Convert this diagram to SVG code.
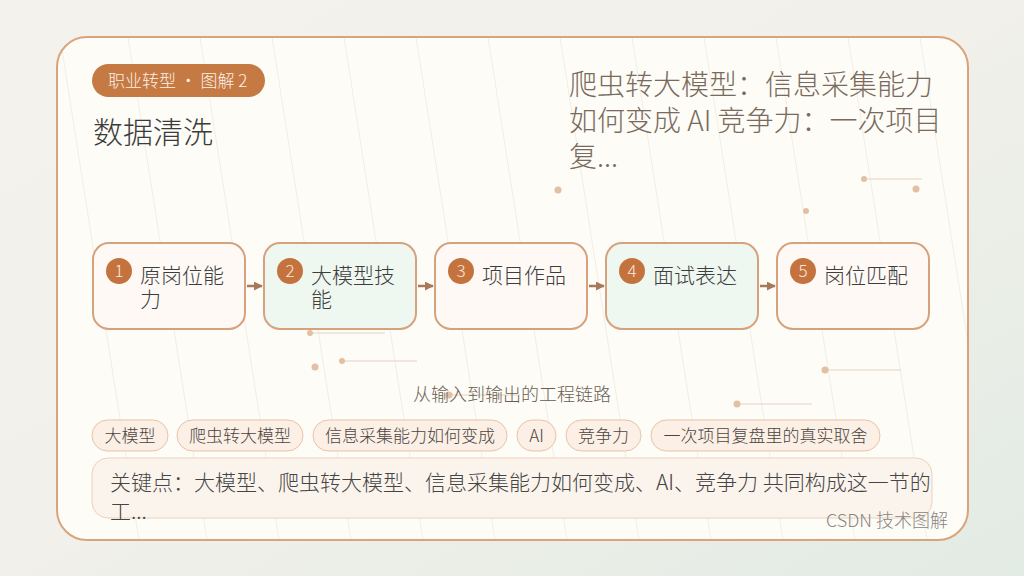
<svg xmlns="http://www.w3.org/2000/svg" width="1024" height="576" viewBox="0 0 1024 576">
<defs>
<linearGradient id="bg" x1="0" y1="0" x2="1" y2="1">
<stop offset="0" stop-color="#f4f2ed"/>
<stop offset="0.5" stop-color="#f1f0ea"/>
<stop offset="1" stop-color="#e2ebe4"/>
</linearGradient>
<clipPath id="cardclip"><rect x="57" y="37" width="911" height="503" rx="30"/></clipPath>
<marker id="arr" viewBox="0 0 10 10" refX="9" refY="5" markerWidth="9" markerHeight="9" orient="auto" markerUnits="userSpaceOnUse">
<path d="M0,0 L10,5 L0,10 z" fill="#a8785a"/>
</marker>
<style>
text{font-family:"Noto Sans CJK SC Light","Noto Sans CJK SC DemiLight","Noto Sans CJK SC","Noto Sans",sans-serif;font-weight:300}
.node{stroke:#d6a27e;stroke-width:2}
.warm{fill:#fef9f5}
.cool{fill:#eef7f0}
.num{fill:#c4733e}
.numt{fill:#fbe9dc;font-size:17px;text-anchor:middle}
.lbl{fill:#3d3d3d;font-size:21px}
.tag{fill:#fbefe6;stroke:#e8c3a4;stroke-width:1}
.tagt{fill:#4a4540;font-size:17px;text-anchor:middle}
.dot{fill:#e3c0a4}
.dl{stroke:#e6d3c4;stroke-width:1}
.conn{stroke:#a8785a;stroke-width:2.5;fill:none}
.bgl{stroke:#efefe8;stroke-width:1}
</style>
</defs>
<rect width="1024" height="576" fill="url(#bg)"/>
<rect x="57" y="37" width="911" height="503" rx="30" fill="#fdfcf7"/>
<g clip-path="url(#cardclip)">
<line class="bgl" x1="60" y1="37" x2="139" y2="540"/>
<line class="bgl" x1="128" y1="37" x2="207" y2="540"/>
<line class="bgl" x1="200" y1="37" x2="279" y2="540"/>
<line class="bgl" x1="272" y1="37" x2="351" y2="540"/>
<line class="bgl" x1="344" y1="37" x2="423" y2="540"/>
<line class="bgl" x1="416" y1="37" x2="495" y2="540"/>
<line class="bgl" x1="488" y1="37" x2="567" y2="540"/>
<line class="bgl" x1="560" y1="37" x2="639" y2="540"/>
<line class="bgl" x1="632" y1="37" x2="711" y2="540"/>
<line class="bgl" x1="704" y1="37" x2="783" y2="540"/>
<line class="bgl" x1="776" y1="37" x2="855" y2="540"/>
<line class="bgl" x1="848" y1="37" x2="927" y2="540"/>
<line class="bgl" x1="920" y1="37" x2="999" y2="540"/>
</g>
<rect x="57" y="37" width="911" height="503" rx="30" fill="none" stroke="#d9a47c" stroke-width="2"/>

<g id="decor">
<line class="dl" x1="864" y1="179" x2="922" y2="179"/>
<circle class="dot" cx="864" cy="179" r="3"/>
<circle class="dot" cx="916" cy="189" r="3.5"/>
<circle class="dot" cx="558" cy="190" r="3.5"/>
<circle class="dot" cx="806" cy="211" r="3"/>
<line class="dl" x1="310" y1="333" x2="385" y2="333"/>
<circle class="dot" cx="310" cy="333" r="3"/>
<line class="dl" x1="342" y1="361" x2="417" y2="361"/>
<circle class="dot" cx="342" cy="361" r="3"/>
<circle class="dot" cx="315" cy="367" r="3.5"/>
<line class="dl" x1="825" y1="370" x2="901" y2="370"/>
<circle class="dot" cx="825" cy="370" r="3.5"/>
<line class="dl" x1="449" y1="395" x2="520" y2="395"/>
<circle class="dot" cx="449" cy="395" r="3.5"/>
<line class="dl" x1="737" y1="404" x2="812" y2="404"/>
<circle class="dot" cx="737" cy="404" r="3.5"/>
</g>

<g id="header">
<rect x="92" y="64" width="173" height="33" rx="16.5" fill="#c57a44"/>
<text x="108" y="87" font-size="17" fill="#fdf1e6">职业转型 · 图解 2</text>
<text x="93" y="143" font-size="30" fill="#3b3b3b">数据清洗</text>
<text font-size="28" fill="#7a6a5c"><tspan x="569" y="95">爬虫转大模型：信息采集能力</tspan><tspan x="569" y="131">如何变成 AI 竞争力：一次项目</tspan><tspan x="569" y="167">复...</tspan></text>
</g>

<g id="connectors">
<line class="conn" x1="247" y1="286" x2="262" y2="286" marker-end="url(#arr)"/>
<line class="conn" x1="418" y1="286" x2="433" y2="286" marker-end="url(#arr)"/>
<line class="conn" x1="589" y1="286" x2="604" y2="286" marker-end="url(#arr)"/>
<line class="conn" x1="760" y1="286" x2="775" y2="286" marker-end="url(#arr)"/>
</g>

<g id="node1">
<rect class="node warm" x="93" y="243" width="152" height="86" rx="16"/>
<circle class="num" cx="119" cy="271" r="13"/>
<text class="numt" x="119" y="277">1</text>
<text class="lbl"><tspan x="140" y="283">原岗位能</tspan><tspan x="140" y="307">力</tspan></text>
</g>
<g id="node2">
<rect class="node cool" x="264" y="243" width="152" height="86" rx="16"/>
<circle class="num" cx="290" cy="271" r="13"/>
<text class="numt" x="290" y="277">2</text>
<text class="lbl"><tspan x="311" y="283">大模型技</tspan><tspan x="311" y="307">能</tspan></text>
</g>
<g id="node3">
<rect class="node warm" x="435" y="243" width="152" height="86" rx="16"/>
<circle class="num" cx="461" cy="271" r="13"/>
<text class="numt" x="461" y="277">3</text>
<text class="lbl" x="482" y="283">项目作品</text>
</g>
<g id="node4">
<rect class="node cool" x="606" y="243" width="152" height="86" rx="16"/>
<circle class="num" cx="632" cy="271" r="13"/>
<text class="numt" x="632" y="277">4</text>
<text class="lbl" x="653" y="283">面试表达</text>
</g>
<g id="node5">
<rect class="node warm" x="777" y="243" width="152" height="86" rx="16"/>
<circle class="num" cx="803" cy="271" r="13"/>
<text class="numt" x="803" y="277">5</text>
<text class="lbl" x="824" y="283">岗位匹配</text>
</g>

<text x="512" y="401" font-size="18" fill="#6b5d52" text-anchor="middle">从输入到输出的工程链路</text>

<g id="tags">
<rect class="tag" x="92" y="420" width="76" height="31" rx="15.5"/>
<text class="tagt" x="130" y="442">大模型</text>
<rect class="tag" x="177" y="420" width="126" height="31" rx="15.5"/>
<text class="tagt" x="240" y="442">爬虫转大模型</text>
<rect class="tag" x="313" y="420" width="194" height="31" rx="15.5"/>
<text class="tagt" x="410" y="442">信息采集能力如何变成</text>
<rect class="tag" x="517" y="420" width="39" height="31" rx="15.5"/>
<text class="tagt" x="536.5" y="442">AI</text>
<rect class="tag" x="566" y="420" width="75" height="31" rx="15.5"/>
<text class="tagt" x="603.5" y="442">竞争力</text>
<rect class="tag" x="651" y="420" width="229" height="31" rx="15.5"/>
<text class="tagt" x="765.5" y="442">一次项目复盘里的真实取舍</text>
</g>

<g id="keypoint">
<rect x="92" y="458" width="840" height="60" rx="16" fill="#fbf4ed" stroke="#ecd2bd" stroke-width="1"/>
<text font-size="21" fill="#454545"><tspan x="110" y="490">关键点：大模型、爬虫转大模型、信息采集能力如何变成、AI、竞争力 共同构成这一节的</tspan><tspan x="110" y="519">工...</tspan></text>
</g>

<text x="948" y="527" font-size="18" fill="#8a8580" text-anchor="end">CSDN 技术图解</text>
</svg>
